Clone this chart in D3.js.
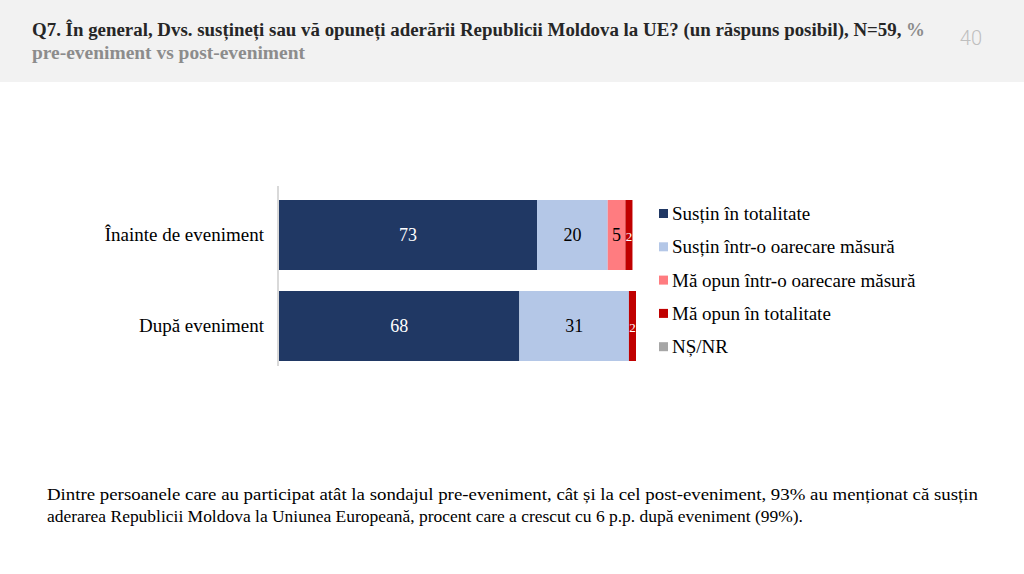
<!DOCTYPE html>
<html><head><meta charset="utf-8">
<script src="https://cdn.jsdelivr.net/npm/d3@7"></script>
<style>
body{margin:0;background:#fff;width:1024px;height:574px;overflow:hidden;}
</style></head>
<body>
<svg id="chart" width="1024" height="574"></svg>
<script>
const categories = ["Înainte de eveniment", "După eveniment"];
const seriesNames = ["Susțin în totalitate", "Susțin într-o oarecare măsură", "Mă opun într-o oarecare măsură", "Mă opun în totalitate", "NȘ/NR"];
const seriesColors = ["#203864", "#b4c7e7", "#ff7c80", "#c00000", "#a6a6a6"];
const labelColors = ["#fff", "#000", "#000", "#fff", "#000"];
const valsSustinTot = [73, 68];
const valsSustinOare = [20, 31];
const valsOpunOare = [5, 0];
const valsOpunTot = [2, 2];
const valsNSNR = [0, 0];
const series = [valsSustinTot, valsSustinOare, valsOpunOare, valsOpunTot, valsNSNR];
const noteLines = ["Dintre persoanele care au participat atât la sondajul pre-eveniment, cât și la cel post-eveniment, 93% au menționat că susțin",
  "aderarea Republicii Moldova la Uniunea Europeană, procent care a crescut cu 6 p.p. după eveniment (99%)."];

const FONT = "Liberation Serif";
const svg = d3.select("#chart");
// header
svg.append("rect").attr("x",0).attr("y",0).attr("width",1024).attr("height",82).attr("fill","#f2f2f2");
svg.append("text").attr("x",32).attr("y",36).attr("font-family",FONT).attr("font-weight","bold")
  .attr("font-size",18).attr("fill","#262626").attr("textLength",893).attr("lengthAdjust","spacingAndGlyphs")
  .text("Q7. În general, Dvs. susțineți sau vă opuneți aderării Republicii Moldova la UE? (un răspuns posibil), N=59, ")
  .append("tspan").attr("fill","#8c8c8c").text("%");
svg.append("text").attr("x",32).attr("y",59).attr("font-family",FONT).attr("font-weight","bold")
  .attr("font-size",18).attr("fill","#8c8c8c").attr("textLength",273).attr("lengthAdjust","spacingAndGlyphs")
  .text("pre-eveniment vs post-eveniment");
svg.append("text").attr("x",982).attr("y",45).attr("text-anchor","end").attr("font-family","Roboto")
  .attr("font-weight",300).attr("font-size",20).attr("fill","#bfbfbf").text("40");

const x = d3.scaleLinear().domain([0,101]).range([279,636]);
const y = d3.scaleBand().domain(categories).range([190,371]).paddingInner(0.2308).paddingOuter(0.11);

const stack = categories.map((c,i)=>{let acc=0;return series.map((s,k)=>{const r={cat:c,k,v:s[i],x0:acc,x1:acc+s[i]};acc+=s[i];return r;});});

const g = svg.append("g");
stack.flat().filter(d=>d.v>0).forEach(d=>{
  const w = x(d.x1)-x(d.x0);
  g.append("rect").attr("x",x(d.x0)).attr("y",y(d.cat)).attr("width",w).attr("height",y.bandwidth())
    .attr("fill",seriesColors[d.k]);
  g.append("text").attr("x",(x(d.x0)+x(d.x1))/2).attr("y",y(d.cat)+y.bandwidth()/2+6)
    .attr("text-anchor","middle").attr("font-family",FONT).attr("font-size", w<10?13:18)
    .attr("fill",labelColors[d.k]).text(d.v);
});
// axis
const yAxis = d3.axisLeft(y).tickSize(0).tickPadding(14);
const ag = svg.append("g").attr("transform",`translate(${x(0)-1},0)`).call(yAxis);
ag.select(".domain").attr("stroke","#d9d9d9").attr("stroke-width",2).attr("d","M0,186V366");
ag.selectAll("text").attr("font-family",FONT).attr("font-size",19).attr("fill","#000");

// legend
const leg = svg.append("g");
seriesNames.forEach((n,i)=>{
  const yy = 214 + i*33.3;
  leg.append("rect").attr("x",659).attr("y",yy-5).attr("width",9).attr("height",9).attr("fill",seriesColors[i]);
  leg.append("text").attr("x",672).attr("y",yy+6).attr("font-family",FONT).attr("font-size",19).attr("fill","#000").text(n);
});

// note
svg.append("text").attr("x",47).attr("y",500).attr("font-family",FONT).attr("font-size",17)
  .attr("textLength",931).attr("lengthAdjust","spacingAndGlyphs").text(noteLines[0]);
svg.append("text").attr("x",47).attr("y",522).attr("font-family",FONT).attr("font-size",17)
  .attr("textLength",756).attr("lengthAdjust","spacingAndGlyphs").text(noteLines[1]);
</script>
</body></html>
